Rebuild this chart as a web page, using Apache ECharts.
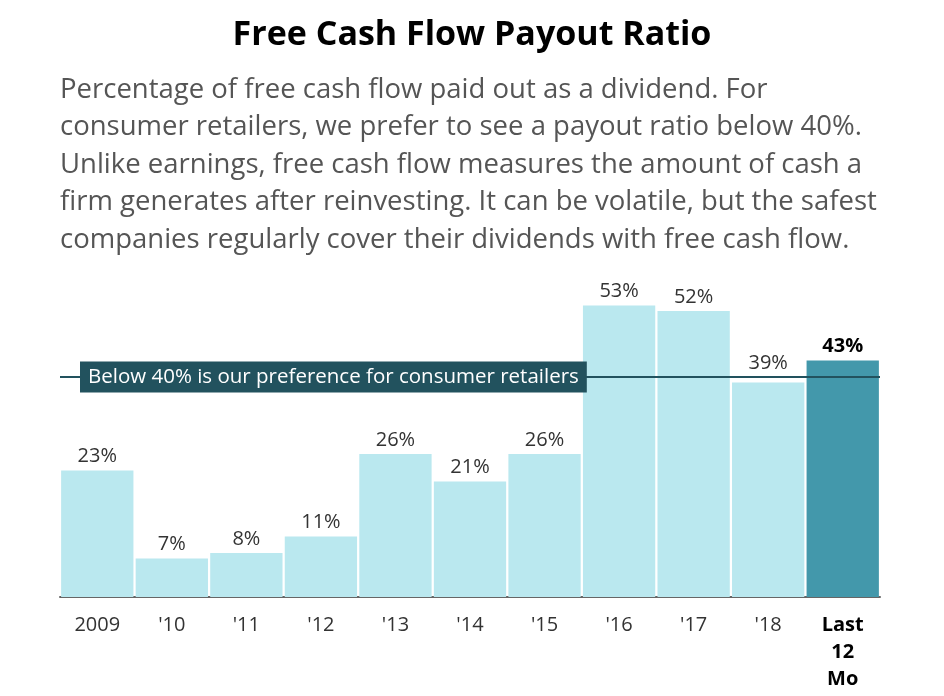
<!DOCTYPE html>
<html>
<head>
<meta charset="utf-8">
<script src="https://cdn.jsdelivr.net/npm/echarts@6/dist/echarts.min.js"></script>
<style>
  html, body { margin: 0; padding: 0; background: #fff; }
  #chart { width: 944px; height: 696px; }
</style>
</head>
<body>
<div id="chart"></div>
<script>
var chartDom = document.getElementById('chart');
var myChart = echarts.init(chartDom);

var years = ['2009', "'10", "'11", "'12", "'13", "'14", "'15", "'16", "'17", "'18", 'Last\n12\nMo'];
var payout = [23, 7, 8, 11, 26, 21, 26, 53, 52, 39, 43];
var preference = 40;

var FONT = '"Open Sans", "Noto Sans", sans-serif';
var LIGHT = '#bae8ef';
var DARK = '#4398ab';
var LINE = '#22525e';

var axisData = years.map(function (y, i) {
    if (i === years.length - 1) {
        return { value: y, textStyle: { fontWeight: 'bold', color: '#000' } };
    }
    return y;
});

var barData = payout.map(function (v, i) {
    return {
        value: v,
        itemStyle: { color: i === payout.length - 1 ? DARK : LIGHT }
    };
});

// labels drawn by an overlapping transparent series so they sit above the 40% line
var labelData = payout.map(function (v, i) {
    var item = { value: v };
    if (i === payout.length - 1) {
        item.label = { fontWeight: 'bold', color: '#000' };
    }
    if (v < preference && v > preference - 3) {
        item.label = { backgroundColor: '#fff', padding: [2, 7, 5, 7] };
    }
    return item;
});

var option = {
    animation: false,
    title: [
        {
            text: 'Free Cash Flow Payout Ratio',
            left: 'center',
            top: 13,
            textStyle: { fontFamily: FONT, fontSize: 34, fontWeight: 'bold', color: '#000' }
        },
        {
            text: 'Percentage of free cash flow paid out as a dividend. For\n' +
                  'consumer retailers, we prefer to see a payout ratio below 40%.\n' +
                  'Unlike earnings, free cash flow measures the amount of cash a\n' +
                  'firm generates after reinvesting. It can be volatile, but the safest\n' +
                  'companies regularly cover their dividends with free cash flow.',
            left: 55,
            top: 66,
            textStyle: { fontFamily: FONT, fontSize: 27.5, fontWeight: 'normal', color: '#555', lineHeight: 37.5 }
        }
    ],
    grid: {
        left: 60,
        right: 64,
        top: 267,
        bottom: 99
    },
    xAxis: {
        type: 'category',
        data: axisData,
        axisLine: { lineStyle: { color: '#666', width: 2 } },
        axisTick: { alignWithLabel: true, length: 7, lineStyle: { color: '#666', width: 2 } },
        axisLabel: { fontFamily: FONT, fontSize: 20, color: '#333', margin: 15, lineHeight: 27 }
    },
    yAxis: {
        type: 'value',
        min: 0,
        max: 60,
        show: false,
        splitLine: { show: false }
    },
    series: [
        {
            name: 'Payout',
            type: 'bar',
            z: 2,
            barWidth: '97%',
            data: barData,
            markLine: {
                silent: true,
                symbol: 'none',
                lineStyle: { color: LINE, width: 2, type: 'solid' },
                label: {
                    show: true,
                    position: 'insideStart',
                    distance: 20,
                    formatter: 'Below 40% is our preference for consumer retailers',
                    fontFamily: FONT,
                    fontSize: 20.5,
                    color: '#fff',
                    backgroundColor: LINE,
                    padding: [5, 8, 5, 8]
                },
                data: [{ yAxis: preference }]
            }
        },
        {
            name: 'Labels',
            type: 'bar',
            z: 3,
            barWidth: '97%',
            barGap: '-100%',
            itemStyle: { color: 'rgba(0,0,0,0)' },
            label: {
                show: true,
                position: 'top',
                distance: 4,
                formatter: '{c}%',
                fontFamily: FONT,
                fontSize: 20,
                color: '#333'
            },
            data: labelData
        }
    ]
};

myChart.setOption(option);
</script>
</body>
</html>
